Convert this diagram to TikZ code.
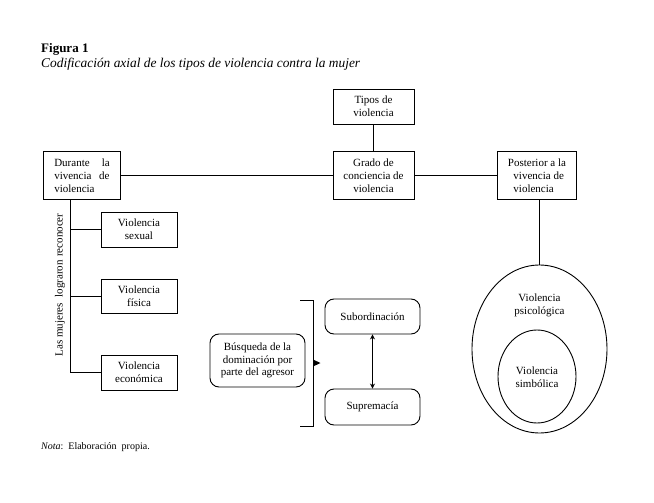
\documentclass[tikz,border=0pt]{standalone}
\usepackage{fontspec}
\setmainfont{Liberation Serif}
\usetikzlibrary{arrows.meta,shapes.geometric}
\begin{document}
\begin{tikzpicture}[x=1pt,y=-1pt,
  every node/.style={font=\fontsize{11}{12.8}\selectfont, inner sep=0pt},
  sqbox/.style={draw, line width=0.9pt, align=center},
  rbox/.style={draw, line width=0.9pt, rounded corners=9pt, align=center},
  conn/.style={line width=0.9pt},
  oval/.style={draw, ellipse, line width=0.9pt}]
\useasboundingbox (0,0) rectangle (654,503);
\node[anchor=base west, font=\fontsize{13}{15}\selectfont\bfseries] (fig) at (41,53) {Figura 1};
\node[anchor=base west, font=\fontsize{13.4}{15}\selectfont\itshape] (cap) at (41,67.5) {Codificación axial de los tipos de violencia contra la mujer};

\node[sqbox, minimum width=77pt, minimum height=48pt, align=left] (dur) at (82,175.5) {Durante\hspace{1.1em}la\\vivencia\hspace{0.7em}de\\violencia};
\node[sqbox, minimum width=81pt, minimum height=35pt] (tip) at (373.5,106.5) {Tipos de\\violencia};
\node[sqbox, minimum width=81pt, minimum height=48pt] (gra) at (373.5,175.5) {Grado de\\conciencia de\\violencia};
\node[sqbox, minimum width=79pt, minimum height=48pt, align=left] (pos) at (537,175.5) {Posterior a la\\\hspace*{0.5em}vivencia de\\\hspace*{0.5em}violencia};

\node[sqbox, minimum width=76pt, minimum height=35pt] (sex) at (139,229.5) {Violencia\\sexual};
\node[sqbox, minimum width=76pt, minimum height=34pt] (fis) at (139,296) {Violencia\\física};
\node[sqbox, minimum width=76pt, minimum height=35pt] (eco) at (139,372.5) {Violencia\\económica};
\node[rotate=90] (lab) at (60,285) {Las mujeres\hspace{0.5em}lograron\hspace{0.3em}reconocer};

\node[rbox, minimum width=95pt, minimum height=53pt] (bus) at (257.5,360.5) {Búsqueda de la\\dominación por\\parte del agresor};
\node[rbox, minimum width=95pt, minimum height=35pt] (sub) at (372.5,316.5) {Subordinación};
\node[rbox, minimum width=95pt, minimum height=36pt] (sup) at (372.5,407) {Supremacía};

\node[oval, minimum width=135pt, minimum height=168pt] (out) at (539.5,349) {};
\node[oval, minimum width=78pt, minimum height=93pt] (inn) at (537,376.5) {};
\node[align=center] (psi) at (539.5,305) {Violencia\\psicológica};
\node[align=center] (sim) at (537,377) {Violencia\\simbólica};

\node[anchor=base west, font=\fontsize{10}{12}\selectfont] (nota) at (41,449) {\textit{Nota}:\hspace{0.5em}Elaboración\hspace{0.5em}propia.};

% connectors
\draw[conn] (dur.east) -- (gra.west);
\draw[conn] (gra.east) -- (pos.west);
\draw[conn] (tip.south) -- (gra.north);
\draw[conn] (pos.south -| out.north) -- (out.north);
\coordinate (trk) at ([xshift=-12pt]dur.south);
\draw[conn] (trk) |- (eco.west);
\draw[conn] (sex.west -| trk) -- (sex.west);
\draw[conn] (fis.west -| trk) -- (fis.west);
\draw[conn, {Stealth[length=5pt,width=5pt]}-{Stealth[length=5pt,width=5pt]}] (sub.south) -- (sup.north);

% bracket
\coordinate (bt) at (313,300);
\coordinate (bb) at (313,426);
\draw[conn] (300,300) -- (bt) -- (bb) -- (300,426);
\fill (313,359.5) -- (320.5,363) -- (313,366.5) -- cycle;
\end{tikzpicture}
\end{document}
